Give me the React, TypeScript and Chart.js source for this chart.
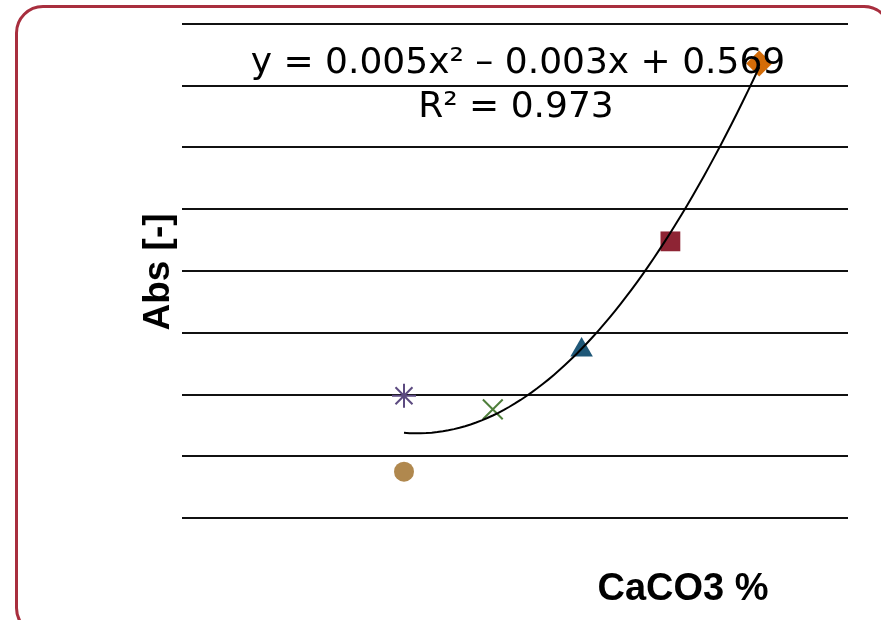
import React, { useEffect, useRef } from "react";
import { Chart, registerables } from "chart.js";

Chart.register(...registerables);

// CaCO3 % (x) and absorbance (y) for each marker series
const SERIES_NAMES = ["S1", "S2", "S3", "S4", "S5", "S6"];
const X_VALUES = [0, 0, 2, 4, 6, 8];
const Y_VALUES = [0.5375, 0.599, 0.588, 0.636, 0.724, 0.868];
const POINT_STYLES = ["circle", "star", "crossRot", "triangle", "rect", "rectRot"];
const POINT_COLORS = ["#B0884E", "#5C4A80", "#4F7F3B", "#1F5878", "#8E2434", "#D46C08"];
const POINT_RADII = [10, 12, 14, 13, 14, 13];

// Polynomial trendline coefficients (x², x, constant) and R²
const TREND_COEFFS = [0.005, -0.003, 0.569];
const TREND_R2 = 0.973;
const TREND_X_RANGE = [0, 8];

const EQUATION_TEXT = "y = 0.005x² – 0.003x + 0.569";
const R2_TEXT = "R² = " + TREND_R2.toFixed(3);
const X_TITLE = "CaCO3 %";
const Y_TITLE = "Abs [-]";

const X_MIN = -5;
const X_MAX = 10;
const Y_MIN = 0.5;
const Y_MAX = 0.9;
const Y_STEP = 0.05;

function trendPoints() {
  const pts: { x: number; y: number }[] = [];
  const [a, b, c] = TREND_COEFFS;
  const n = 64;
  for (let i = 0; i <= n; i++) {
    const x = TREND_X_RANGE[0] + ((TREND_X_RANGE[1] - TREND_X_RANGE[0]) * i) / n;
    pts.push({ x, y: a * x * x + b * x + c });
  }
  return pts;
}

const textPlugin = {
  id: "textPlugin",
  afterDraw(chart: any) {
    const ctx = chart.ctx;
    ctx.save();
    ctx.fillStyle = "#000";
    ctx.textAlign = "center";
    ctx.textBaseline = "alphabetic";
    ctx.font = '36px "DejaVu Sans"';
    ctx.fillText(EQUATION_TEXT, 518, 73);
    ctx.fillText(R2_TEXT, 516, 117);
    ctx.font = 'bold 38px "Liberation Sans"';
    ctx.fillText(X_TITLE, 683, 600);
    ctx.font = 'bold 37px "Liberation Sans"';
    ctx.translate(169, 272);
    ctx.rotate(-Math.PI / 2);
    ctx.fillText(Y_TITLE, 0, 0);
    ctx.restore();
  },
};

export default function App() {
  const ref = useRef<HTMLCanvasElement>(null);
  useEffect(() => {
    const prevOverflow = document.body.style.overflow;
    document.body.style.overflow = "hidden";
    const datasets: any[] = [
      {
        type: "line",
        label: "Trend",
        data: trendPoints(),
        showLine: true,
        borderColor: "#000",
        borderWidth: 2,
        pointRadius: 0,
        fill: false,
        order: -1,
      },
    ];
    SERIES_NAMES.forEach((name, i) => {
      const stroked = POINT_STYLES[i] === "star" || POINT_STYLES[i] === "crossRot";
      datasets.push({
        type: "scatter",
        label: name,
        data: [{ x: X_VALUES[i], y: Y_VALUES[i] }],
        pointStyle: POINT_STYLES[i],
        pointRadius: POINT_RADII[i],
        pointHoverRadius: POINT_RADII[i],
        backgroundColor: POINT_COLORS[i],
        borderColor: POINT_COLORS[i],
        borderWidth: stroked ? 2 : 0,
        order: i,
      });
    });
    const chart = new Chart(ref.current!, {
      type: "scatter",
      data: { datasets },
      options: {
        animation: false,
        responsive: false,
        maintainAspectRatio: false,
        layout: { padding: { left: 182, right: 33, top: 24, bottom: 102 } },
        plugins: { legend: { display: false }, tooltip: { enabled: false }, title: { display: false } },
        scales: {
          x: {
            type: "linear",
            min: X_MIN,
            max: X_MAX,
            grid: { display: false, drawTicks: false },
            border: { display: false },
            ticks: { display: false },
          },
          y: {
            type: "linear",
            min: Y_MIN,
            max: Y_MAX,
            grid: { display: true, color: "#111", lineWidth: 2, drawTicks: false },
            border: { display: false },
            ticks: { display: false, stepSize: Y_STEP },
          },
        },
      },
      plugins: [textPlugin],
    });
    return () => {
      chart.destroy();
      document.body.style.overflow = prevOverflow;
    };
  }, []);

  return (
    <div style={{ position: "fixed", left: 0, top: 0, width: 881, height: 620, overflow: "hidden", background: "#fff" }}>
      <div
        style={{
          position: "absolute",
          left: 15,
          top: 5,
          width: 877,
          height: 631,
          boxSizing: "border-box",
          border: "3px solid #A82E3E",
          borderRadius: 28,
        }}
      />
      <canvas ref={ref} width={881} height={620} style={{ position: "absolute", left: 0, top: 0, width: 881, height: 620 }} />
    </div>
  );
}
